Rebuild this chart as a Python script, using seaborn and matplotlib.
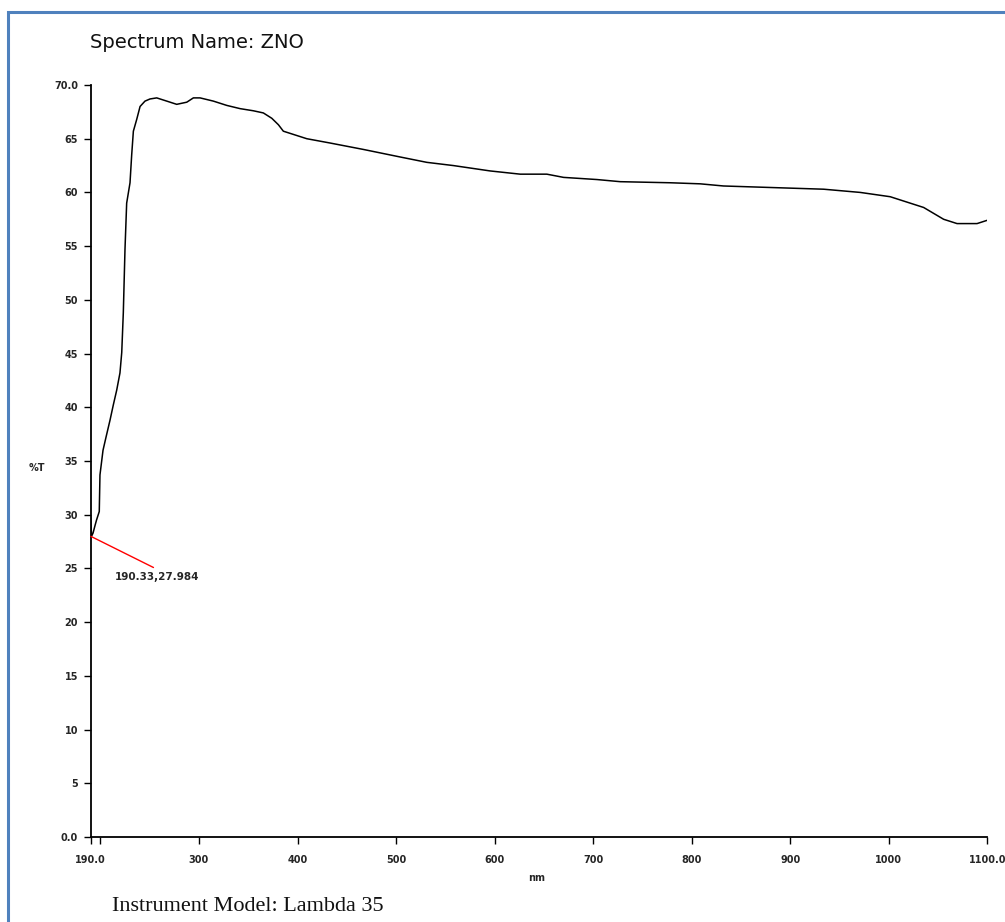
import matplotlib
matplotlib.use("Agg")
import matplotlib.pyplot as plt
import matplotlib.patches as mpatches
import seaborn as sns
import pandas as pd

# ---- data ----
wavelength = [190, 191, 192.5, 194.5, 196, 198.8, 199.5, 202.6, 205.6, 209.7, 213, 216.5,
              219.8, 221.6, 223.2, 224.9, 226.6, 230, 231.7, 233.4, 236.8, 240.2, 245.2,
              250.3, 257.1, 267.3, 277.4, 287.6, 294.3, 301.1, 314.6, 328.2, 341.7, 355.2,
              365.3, 373.9, 380.6, 385.6, 392.4, 409.4, 433, 466.9, 504.1, 531.2, 558.2,
              595.5, 626, 653, 670, 703.8, 727.5, 778.2, 808.7, 832.3, 883.1, 933.9, 971.1,
              1001.5, 1035.4, 1055.7, 1069.3, 1089.6, 1099.7]
transmittance = [29.8, 28.0, 28.3, 29.0, 29.5, 30.3, 33.7, 36.0, 37.2, 38.8, 40.2, 41.6,
                 43.2, 45.1, 48.8, 54.7, 59.0, 60.9, 63.5, 65.7, 66.8, 68.0, 68.5,
                 68.7, 68.8, 68.5, 68.2, 68.4, 68.8, 68.8, 68.5, 68.1, 67.8, 67.6,
                 67.4, 66.9, 66.3, 65.7, 65.5, 65.0, 64.6, 64.0, 63.3, 62.8, 62.5,
                 62.0, 61.7, 61.7, 61.4, 61.2, 61.0, 60.9, 60.8, 60.6, 60.45, 60.3, 60.0,
                 59.6, 58.6, 57.5, 57.1, 57.1, 57.4]

x_ticks = [190, 200, 300, 400, 500, 600, 700, 800, 900, 1000, 1100]
x_tick_labels = ["190.0", "", "300", "400", "500", "600", "700", "800", "900", "1000", "1100.0"]
y_ticks = [0, 5, 10, 15, 20, 25, 30, 35, 40, 45, 50, 55, 60, 65, 70]
y_tick_labels = ["0.0", "5", "10", "15", "20", "25", "30", "35", "40", "45", "50", "55", "60", "65", "70.0"]

annot_x = 190.33
annot_y = 27.984
annot_label = "190.33,27.984"

df = pd.DataFrame({"nm": wavelength, "%T": transmittance})

sns.set_style("ticks")
plt.rcParams["font.family"] = ["DejaVu Sans"]

fig = plt.figure(figsize=(10.05, 9.22), dpi=100)
ax = fig.add_axes([90.6 / 1005, 1 - 837 / 922, (987.3 - 90.6) / 1005, (837 - 85) / 922])

sns.lineplot(data=df, x="nm", y="%T", ax=ax, color="black", linewidth=1.1, sort=False)

ax.set_xlim(190, 1100)
ax.set_ylim(0, 70)
ax.set_xticks(x_ticks)
ax.set_xticklabels(x_tick_labels, fontsize=7, fontweight="bold")
ax.set_yticks(y_ticks)
ax.set_yticklabels(y_tick_labels, fontsize=7, fontweight="bold")
ax.tick_params(axis="both", direction="out", length=5, width=1.0, color="black")
ax.tick_params(axis="x", pad=8)
ax.tick_params(axis="y", pad=4)
for s in ["top", "right"]:
    ax.spines[s].set_visible(False)
for s in ["left", "bottom"]:
    ax.spines[s].set_color("black")
    ax.spines[s].set_linewidth(1.3)
ax.grid(False)

ax.set_xlabel("nm", fontsize=7, fontweight="bold", va="center")
ax.xaxis.set_label_coords((537 - 90.6) / 896.7, (837 - 878) / 752)
ax.set_ylabel("%T", fontsize=7, fontweight="bold", rotation=0, va="center", ha="center")
ax.yaxis.set_label_coords((37 - 90.6) / 896.7, (837 - 468) / 752)

ax.annotate(annot_label, xy=(annot_x, annot_y), xytext=(257, 24.2),
            fontsize=7.5, fontweight="bold", ha="center", va="center",
            arrowprops=dict(arrowstyle="-", color="red", lw=1.0,
                            shrinkA=2, shrinkB=0, relpos=(0.57, 1.0)))

fig.text(90 / 1005, 1 - 42 / 922, "Spectrum Name: ZNO", fontsize=14,
         ha="left", va="center", color="#111111")
fig.text(112 / 1005, 1 - 906 / 922, "Instrument Model: Lambda 35", fontsize=16,
         family=["Liberation Serif", "DejaVu Serif"], ha="left", va="center",
         color="#111111")

border = mpatches.Rectangle((8 / 1005, -0.2), 1.5, 1.2 - 12 / 922,
                            transform=fig.transFigure, fill=False,
                            edgecolor="#4f81bd", linewidth=2.2, clip_on=False)
fig.patches.append(border)

fig.savefig("out.png", dpi=100)
